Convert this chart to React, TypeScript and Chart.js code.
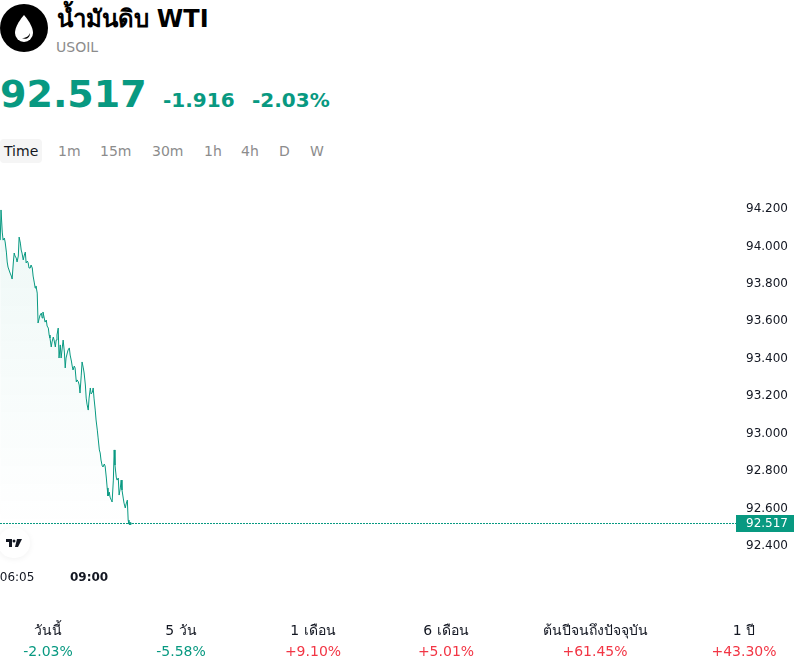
import React, { useEffect, useRef } from "react";
import { Chart, registerables } from "chart.js";

Chart.register(...registerables);

const FONT = '"DejaVu Sans", sans-serif';
const GREEN = "#089981";
const RED = "#F23645";

const title = "น้ำมันดิบ WTI";
const symbol = "USOIL";
const lastPrice = 92.517;
const lastPriceLabel = "92.517";
const changeAbs = "-1.916";
const changePct = "-2.03%";
const intervals = ["Time", "1m", "15m", "30m", "1h", "4h", "D", "W"];
const periodNames = ["วันนี้", "5 วัน", "1 เดือน", "6 เดือน", "ต้นปีจนถึงปัจจุบัน", "1 ปี"];
const periodValues = ["-2.03%", "-5.58%", "+9.10%", "+5.01%", "+61.45%", "+43.30%"];

const yTicks = [94.2, 94.0, 93.8, 93.6, 93.4, 93.2, 93.0, 92.8, 92.6, 92.4];
const timeTicks = [365, 540];
const timeLabels: Record<number, string> = { 365: "06:05", 540: "09:00" };

// minutes since midnight
const minutes = [
  324, 326, 329, 331, 334, 336, 339, 341, 343, 348, 351, 353, 356, 358, 360, 363, 365, 368, 370, 373,
  375, 377, 380, 382, 385, 387, 390, 392, 394, 397, 399, 402, 404, 407, 409, 411, 414, 416, 419, 421,
  424, 426, 428, 431, 433, 436, 438, 441, 443, 445, 448, 450, 453, 455, 458, 460, 462, 465, 467, 470,
  472, 475, 477, 480, 482, 484, 487, 489, 492, 494, 497, 499, 501, 504, 506, 509, 511, 514, 516, 518,
  521, 523, 526, 528, 531, 533, 535, 538, 540, 543, 545, 548, 550, 552, 555, 557, 560, 562, 565, 567,
  569, 572, 574, 577, 579, 582, 584, 586, 589, 591, 594, 596, 599, 601, 603, 606, 608, 611, 613, 616,
  618, 620, 623, 625, 628, 630, 633, 635, 637, 640,
];
const prices = [
  94.034, 94.195, 94.077, 94.034, 94.045, 94.024, 93.97, 93.917, 93.89, 93.858, 93.842, 93.826, 93.917, 93.965, 93.949, 93.938, 93.917, 93.949, 94.05, 94.018,
  93.981, 93.965, 93.928, 93.949, 93.97, 93.912, 93.922, 93.912, 93.885, 93.885, 93.901, 93.885, 93.842, 93.805, 93.778, 93.789, 93.751, 93.591, 93.618, 93.634,
  93.644, 93.618, 93.65, 93.618, 93.596, 93.607, 93.575, 93.564, 93.527, 93.511, 93.463, 93.49, 93.516, 93.5, 93.463, 93.5, 93.527, 93.564, 93.404, 93.474,
  93.404, 93.463, 93.5, 93.436, 93.351, 93.404, 93.431, 93.447, 93.458, 93.42, 93.388, 93.361, 93.34, 93.361, 93.351, 93.276, 93.287, 93.276, 93.26, 93.217,
  93.313, 93.383, 93.351, 93.324, 93.26, 93.19, 93.158, 93.126, 93.19, 93.244, 93.212, 93.222, 93.244, 93.19, 93.126, 93.073, 93.019, 92.977, 92.913, 92.897,
  92.859, 92.827, 92.822, 92.838, 92.827, 92.763, 92.71, 92.667, 92.688, 92.661, 92.645, 92.635, 92.752, 92.913, 92.832, 92.768, 92.752, 92.763, 92.672, 92.71,
  92.752, 92.699, 92.656, 92.629, 92.603, 92.624, 92.645, 92.538, 92.517, 92.517,
];

function App() {
  const ref = useRef<HTMLCanvasElement>(null);
  useEffect(() => {
    const canvas = ref.current;
    if (!canvas) return;
    const ctx = canvas.getContext("2d")!;
    const grad = ctx.createLinearGradient(0, 20, 0, 340);
    grad.addColorStop(0, "rgba(8,153,129,0.07)");
    grad.addColorStop(1, "rgba(8,153,129,0)");
    const chart = new Chart(canvas, {
      type: "line",
      data: {
        datasets: [
          {
            data: minutes.map((t, i) => ({ x: t, y: prices[i] })),
            borderColor: GREEN,
            borderWidth: 1,
            backgroundColor: grad,
            fill: "start",
            pointRadius: 0,
            tension: 0,
          },
        ],
      },
      options: {
        animation: false,
        responsive: false,
        events: [],
        layout: { padding: { top: 2.3, left: 0, right: 0, bottom: 0 } },
        plugins: { legend: { display: false }, tooltip: { enabled: false } },
        scales: {
          x: {
            type: "linear",
            min: 323.5,
            max: 2110,
            position: "bottom",
            grid: { display: false },
            border: { display: false },
            afterBuildTicks: (axis: any) => {
              axis.ticks = timeTicks.map((v) => ({ value: v }));
            },
            afterFit: (axis: any) => {
              axis.height = 23.3;
              axis.paddingLeft = 0;
              axis.paddingRight = 0;
            },
            ticks: {
              autoSkip: false,
              maxRotation: 0,
              padding: -2.5,
              color: "#131722",
              font: (c: any) => ({
                family: FONT,
                size: 12,
                weight: c.tick && c.tick.value === 540 ? "bold" : "normal",
              }),
              callback: (v: any) => timeLabels[v as number] ?? "",
            },
          },
          y: {
            type: "linear",
            position: "right",
            min: 92.3,
            max: 94.3,
            grid: { display: false },
            border: { display: false },
            afterFit: (axis: any) => {
              axis.width = 65;
              axis.paddingTop = 0;
              axis.paddingBottom = 0;
            },
            afterBuildTicks: (axis: any) => {
              axis.ticks = yTicks.map((v) => ({ value: v }));
            },
            ticks: {
              autoSkip: false,
              padding: 3,
              color: "#131722",
              font: { family: FONT, size: 12 },
              callback: (v: any) => Number(v).toFixed(3),
            },
          },
        },
      },
      plugins: [
        {
          id: "lastPriceLine",
          afterDatasetsDraw(c: any) {
            const y = Math.round(c.scales.y.getPixelForValue(lastPrice) - 1) + 0.5;
            const g = c.ctx;
            g.save();
            g.strokeStyle = GREEN;
            g.lineWidth = 1;
            g.setLineDash([2, 1]);
            g.beginPath();
            g.moveTo(0, y);
            g.lineTo(736, y);
            g.stroke();
            g.setLineDash([]);
            g.fillStyle = GREEN;
            g.fillRect(736, y - 8.5, 58, 17);
            g.fillStyle = "#fff";
            g.font = `12px ${FONT}`;
            g.textBaseline = "middle";
            g.textAlign = "left";
            g.fillText(lastPriceLabel, 746, y + 0.5);
            g.beginPath();
            g.fillStyle = GREEN;
            g.arc(c.scales.x.getPixelForValue(minutes[minutes.length - 1]), y, 1.5, 0, Math.PI * 2);
            g.fill();
            g.restore();
          },
        },
      ],
    });
    return () => chart.destroy();
  }, []);

  const abs = (s: React.CSSProperties): React.CSSProperties => ({
    position: "absolute",
    whiteSpace: "nowrap",
    fontFamily: FONT,
    ...s,
  });
  const intervalX = [4, 58, 100, 152, 204, 241, 279, 310];

  return (
    <div style={{ position: "absolute", left: 0, top: 0, width: 800, height: 671, overflow: "hidden", background: "#fff" }}>
      <svg style={{ position: "absolute", left: 0, top: 4 }} width={48} height={48} viewBox="0 0 48 48">
        <circle cx={24} cy={24} r={24} fill="#000" />
        <path d="M24 11 C24 11 15 21 15 29 A9 9 0 0 0 33 29 C33 21 24 11 24 11 Z" fill="#fff" />
        <path d="M22 34 C26 34 29 32 30 29 C30 34 26 36 22 34 Z" fill="#000" />
      </svg>
      <div style={abs({ left: 56.5, top: 3, fontSize: 24, lineHeight: "32px", fontWeight: 700, color: "#000" })}>{title}</div>
      <div style={abs({ left: 56, top: 38, fontSize: 14, lineHeight: "18px", color: "#8c8c8c" })}>{symbol}</div>
      <div style={abs({ left: 0, top: 70, fontSize: 38, lineHeight: "48px", fontWeight: 700, color: GREEN })}>{lastPriceLabel}</div>
      <div style={abs({ left: 163, top: 86, fontSize: 20, lineHeight: "28px", fontWeight: 700, color: GREEN })}>{changeAbs}</div>
      <div style={abs({ left: 252, top: 86, fontSize: 20, lineHeight: "28px", fontWeight: 700, color: GREEN })}>{changePct}</div>
      <div style={{ position: "absolute", left: 0, top: 139, width: 42, height: 24, borderRadius: 4, background: "#f5f5f5" }} />
      {intervals.map((t, i) => (
        <div key={t} style={abs({ left: intervalX[i], top: 142, fontSize: 14, lineHeight: "18px", color: i === 0 ? "#131722" : "#8c8c8c" })}>{t}</div>
      ))}
      <canvas ref={ref} width={800} height={400} style={{ position: "absolute", left: 0, top: 188, display: "block" }} />
      <div style={{ position: "absolute", left: -2, top: 528, width: 32, height: 30, borderRadius: 15, background: "#fff", boxShadow: "0 1px 6px rgba(0,0,0,0.06)" }} />
      <svg style={{ position: "absolute", left: 6, top: 539 }} width={16} height={9} viewBox="0 0 16 9">
        <path d="M0 0H6V8H3V3H0Z" fill="#131722" />
        <circle cx={8} cy={2} r={1.5} fill="#131722" />
        <path d="M11 0H16L12 8H9Z" fill="#131722" />
      </svg>
      {periodNames.map((n, i) => {
        const cx = [48, 181, 313, 446, 595, 744][i];
        return (
          <div key={n} style={{ position: "absolute", left: cx - 70, width: 140, top: 620, textAlign: "center", fontFamily: FONT }}>
            <div style={{ fontSize: 14, lineHeight: "21px", color: "#131722" }}>{n}</div>
            <div style={{ fontSize: 14, lineHeight: "21px", color: periodValues[i][0] === "-" ? GREEN : RED }}>{periodValues[i]}</div>
          </div>
        );
      })}
    </div>
  );
}

export default App;
